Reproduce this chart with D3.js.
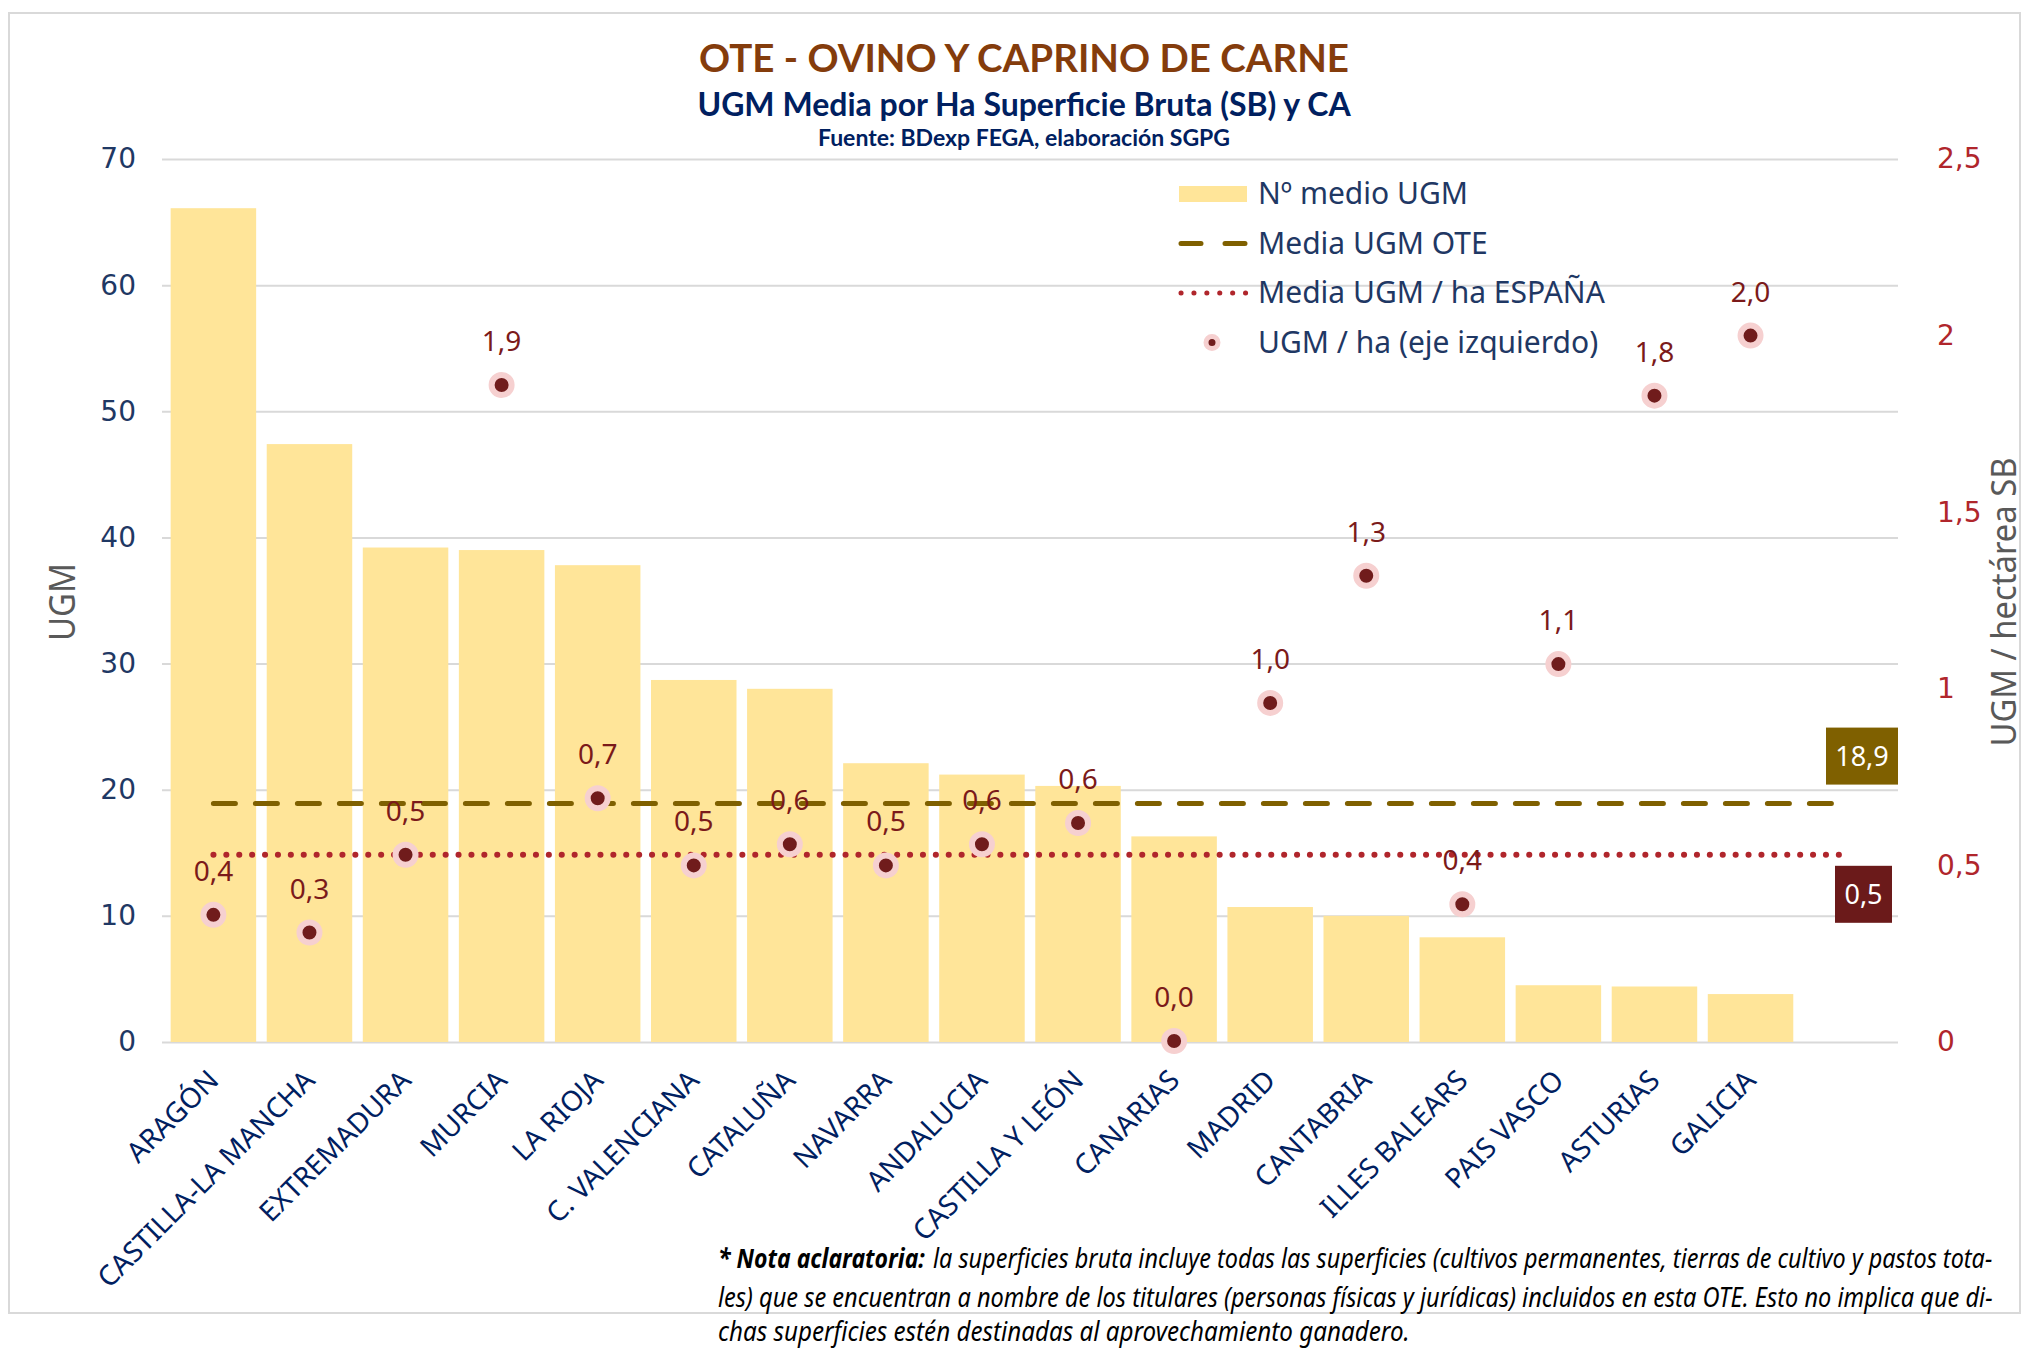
<!DOCTYPE html>
<html>
<head>
<meta charset="utf-8">
<script src="https://cdn.jsdelivr.net/npm/d3@7"></script>
<style>
  body { margin: 0; background: #fff; }
  svg text { font-family: "Noto Sans", "Open Sans", sans-serif; }
</style>
</head>
<body>
<div id="chart"></div>
<script>
// data
var categories = ["ARAGÓN", "CASTILLA-LA MANCHA", "EXTREMADURA", "MURCIA", "LA RIOJA",
  "C. VALENCIANA", "CATALUÑA", "NAVARRA", "ANDALUCIA", "CASTILLA Y LEÓN", "CANARIAS",
  "MADRID", "CANTABRIA", "ILLES BALEARS", "PAIS VASCO", "ASTURIAS", "GALICIA"];
var ugm = [66.1, 47.4, 39.2, 39.0, 37.8, 28.7, 28.0, 22.1, 21.2, 20.3, 16.3, 10.7, 10.0, 8.3, 4.5, 4.4, 3.8];
var ugmHa = [0.36, 0.31, 0.53, 1.86, 0.69, 0.50, 0.56, 0.50, 0.56, 0.62, 0.003, 0.96, 1.32, 0.39, 1.07, 1.83, 2.0];
var mediaOTE = 18.9;
var mediaEspana = 0.53;
var leftTicks = [0, 10, 20, 30, 40, 50, 60, 70];
var rightTicks = [0, 0.5, 1, 1.5, 2, 2.5];
var legendLabels = ["Nº medio UGM", "Media UGM OTE", "Media UGM / ha ESPAÑA", "UGM / ha (eje izquierdo)"];

var W = 2029, H = 1348;
var margin = {top: 159, right: 131, bottom: 306, left: 162},
    width = W - margin.left - margin.right,
    height = H - margin.top - margin.bottom;

var comma = function(v) { return String(v).replace(".", ","); };
var fmt1 = function(v) { return v.toFixed(1).replace(".", ","); };

var svg = d3.select("#chart").append("svg")
    .attr("width", W)
    .attr("height", H);

// outer frame
svg.append("rect")
  .attr("x", 9).attr("y", 13)
  .attr("width", 2011).attr("height", 1300)
  .attr("fill", "none")
  .attr("stroke", "#d9d9d9")
  .attr("stroke-width", 2);

// titles
svg.append("text")
  .attr("x", 1024).attr("y", 72)
  .attr("text-anchor", "middle")
  .style("font-family", "Lato, 'Open Sans', sans-serif")
  .style("font-weight", "bold")
  .style("font-size", "38.5px")
  .attr("fill", "#843c0c")
  .text("OTE - OVINO Y CAPRINO DE CARNE");
svg.append("text")
  .attr("x", 1024).attr("y", 116)
  .attr("text-anchor", "middle")
  .style("font-family", "Lato, 'Open Sans', sans-serif")
  .style("font-weight", "bold")
  .style("font-size", "32px")
  .attr("fill", "#002060")
  .text("UGM Media por Ha Superficie Bruta (SB) y CA");
svg.append("text")
  .attr("x", 1024).attr("y", 146)
  .attr("text-anchor", "middle")
  .style("font-family", "Lato, 'Open Sans', sans-serif")
  .style("font-weight", "bold")
  .style("font-size", "23px")
  .attr("fill", "#002060")
  .text("Fuente: BDexp FEGA, elaboración SGPG");

var g = svg.append("g")
  .attr("transform", "translate(" + margin.left + "," + margin.top + ")");

// an extra empty slot on the right holds the average labels
var x = d3.scaleBand()
  .domain(categories.concat([""]))
  .range([0, width])
  .paddingInner(0.11)
  .paddingOuter(0.09);

var y = d3.scaleLinear().domain([0, 70]).range([height, 0]);
var y2 = d3.scaleLinear().domain([0, 2.5]).range([height, 0]);

// gridlines
g.append("g")
  .call(d3.axisLeft(y).tickValues(leftTicks).tickSize(-width).tickFormat(""))
  .call(function(a) { a.select(".domain").remove(); })
  .selectAll("line")
    .attr("stroke", "#d9d9d9")
    .attr("stroke-width", 2);

// bars
g.append("g").selectAll("rect")
  .data(categories)
  .enter()
  .append("rect")
    .attr("x", function(d) { return x(d); })
    .attr("y", function(d, i) { return y(ugm[i]); })
    .attr("width", x.bandwidth())
    .attr("height", function(d, i) { return height - y(ugm[i]); })
    .attr("fill", "#ffe599");

// left axis
var la = g.append("g")
  .call(d3.axisLeft(y).tickValues(leftTicks).tickSize(0).tickPadding(26));
la.select(".domain").remove();
la.selectAll("text")
  .style("font-family", "'DejaVu Sans', Verdana, sans-serif")
  .style("font-size", "28px")
  .attr("fill", "#1f3864");

// right axis
var ra = g.append("g")
  .attr("transform", "translate(" + width + ",0)")
  .call(d3.axisRight(y2).tickValues(rightTicks).tickSize(0).tickPadding(39).tickFormat(comma));
ra.select(".domain").remove();
ra.selectAll("text")
  .style("font-family", "'DejaVu Sans', Verdana, sans-serif")
  .style("font-size", "28px")
  .attr("fill", "#b0262c");

// x labels
var xa = g.append("g")
  .attr("transform", "translate(0," + height + ")")
  .call(d3.axisBottom(x).tickSize(0).tickFormat(function(d) { return d; }));
xa.select(".domain").remove();
xa.selectAll("text")
  .style("font-size", "28px")
  .attr("fill", "#002060")
  .attr("text-anchor", "end")
  .attr("y", 0)
  .attr("dy", 0)
  .attr("transform", "translate(7,40) rotate(-45)");

// axis titles
svg.append("text")
  .attr("transform", "translate(75,602) rotate(-90)")
  .attr("text-anchor", "middle")
  .attr("textLength", 78).attr("lengthAdjust", "spacingAndGlyphs")
  .style("font-size", "36px")
  .attr("fill", "#595959")
  .text("UGM");
svg.append("text")
  .attr("transform", "translate(2016,602) rotate(-90)")
  .attr("text-anchor", "middle")
  .attr("textLength", 289).attr("lengthAdjust", "spacingAndGlyphs")
  .style("font-size", "35px")
  .attr("fill", "#595959")
  .text("UGM / hectárea SB");

// average lines
var x0 = x(categories[0]) + x.bandwidth() / 2,
    x1 = x("") + x.bandwidth() / 2 + 4;
g.append("line")
  .attr("x1", x0).attr("x2", x1)
  .attr("y1", y(mediaOTE)).attr("y2", y(mediaOTE))
  .attr("stroke", "#7f6000")
  .attr("stroke-width", 5)
  .attr("stroke-linecap", "round")
  .attr("stroke-dasharray", "22 20");
g.append("line")
  .attr("x1", x0).attr("x2", x1)
  .attr("y1", y2(mediaEspana)).attr("y2", y2(mediaEspana))
  .attr("stroke", "#b0262c")
  .attr("stroke-width", 6)
  .attr("stroke-linecap", "round")
  .attr("stroke-dasharray", "0.1 12.8");

// average value boxes, right-aligned to the plot
var boxOTE = g.append("g").attr("transform", "translate(" + width + "," + y(mediaOTE) + ")");
boxOTE.append("rect").attr("x", -72).attr("y", -76).attr("width", 72).attr("height", 57).attr("fill", "#7f6000");
boxOTE.append("text").attr("x", -36).attr("y", -38).attr("text-anchor", "middle")
  .style("font-size", "27px").attr("fill", "#fff").text(fmt1(mediaOTE));
var boxES = g.append("g").attr("transform", "translate(" + width + "," + y2(mediaEspana) + ")");
boxES.append("rect").attr("x", -63).attr("y", 11).attr("width", 57).attr("height", 57).attr("fill", "#6b1a1a");
boxES.append("text").attr("x", -34.5).attr("y", 49).attr("text-anchor", "middle")
  .style("font-size", "27px").attr("fill", "#fff").text(fmt1(mediaEspana));

// dots
var dots = g.append("g").selectAll("g")
  .data(categories)
  .enter()
  .append("g")
    .attr("transform", function(d, i) {
      return "translate(" + (x(d) + x.bandwidth() / 2) + "," + y2(ugmHa[i]) + ")";
    });
dots.append("circle")
  .attr("r", 10)
  .attr("fill", "#701c1c")
  .attr("stroke", "#f6d0d0")
  .attr("stroke-width", 6);
dots.append("text")
  .attr("y", -34)
  .attr("text-anchor", "middle")
  .style("font-size", "28px")
  .attr("fill", "#7b1a1a")
  .text(function(d, i) { return fmt1(ugmHa[i]); });

// legend
var legend = svg.append("g").attr("transform", "translate(1179,194)");
var items = legend.selectAll("g")
  .data(legendLabels)
  .enter()
  .append("g")
    .attr("transform", function(d, i) { return "translate(0," + (i * 49.5) + ")"; });
items.append("text")
  .attr("x", 79).attr("y", 10)
  .style("font-size", "30px")
  .attr("fill", "#1f3864")
  .text(function(d) { return d; });
legend.append("rect").attr("x", 0).attr("y", -8).attr("width", 68).attr("height", 16).attr("fill", "#ffe599");
legend.append("line").attr("x1", 2).attr("x2", 66).attr("y1", 49.5).attr("y2", 49.5)
  .attr("stroke", "#7f6000").attr("stroke-width", 5).attr("stroke-linecap", "round").attr("stroke-dasharray", "20 24");
legend.append("line").attr("x1", 2).attr("x2", 67).attr("y1", 99).attr("y2", 99)
  .attr("stroke", "#b0262c").attr("stroke-width", 5).attr("stroke-linecap", "round").attr("stroke-dasharray", "0.1 12.8");
legend.append("circle").attr("cx", 33).attr("cy", 148.5).attr("r", 6)
  .attr("fill", "#701c1c").attr("stroke", "#f6d0d0").attr("stroke-width", 5);

// note: each line is squeezed horizontally to the width it has in the reference
function noteLine(txt, x0, y0, w, bold) {
  var t = svg.append("text")
    .attr("x", 0).attr("y", 0)
    .style("font-style", "italic")
    .style("font-weight", bold ? "bold" : "normal")
    .style("font-size", "27px")
    .attr("fill", "#000")
    .text(txt);
  var len = t.node().getComputedTextLength();
  t.attr("transform", "translate(" + x0 + "," + y0 + ") scale(" + (w / len) + ",1)");
}
noteLine("* Nota aclaratoria:", 718, 1268, 207, true);
noteLine("la superficies bruta incluye todas las superficies (cultivos permanentes, tierras de cultivo y pastos tota-", 933, 1268, 1060, false);
noteLine("les) que se encuentran a nombre de los titulares (personas físicas y jurídicas) incluidos en esta OTE. Esto no implica que di-", 718, 1307, 1275, false);
noteLine("chas superficies estén destinadas al aprovechamiento ganadero.", 718, 1341, 692, false);
</script>
</body>
</html>
